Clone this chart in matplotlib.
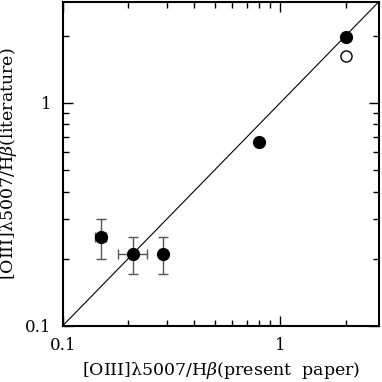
import numpy as np
import matplotlib
matplotlib.use('Agg')
import matplotlib.pyplot as plt
import matplotlib.ticker as ticker

plt.rcParams['font.family'] = 'DejaVu Serif'
plt.rcParams['mathtext.fontset'] = 'dejavuserif'

# filled points with error bars
x_err_pts = [0.15, 0.21, 0.29]
y_err_pts = [0.25, 0.21, 0.21]
x_lo = [0.141, 0.18, 0.29]
x_hi = [0.158, 0.243, 0.29]
y_lo = [0.20, 0.17, 0.17]
y_hi = [0.30, 0.25, 0.25]

# filled points without error bars
x_pts = [0.80, 2.0]
y_pts = [0.67, 1.97]

# open point
x_open = [2.0]
y_open = [1.62]

xmin, xmax = 0.1, 2.85
ymin, ymax = 0.1, 2.83

fig = plt.figure(figsize=(3.82, 3.82), dpi=100)
ax = fig.add_axes([0.164, 0.147, 0.829, 0.848])

xerr = [np.array(x_err_pts) - np.array(x_lo), np.array(x_hi) - np.array(x_err_pts)]
yerr = [np.array(y_err_pts) - np.array(y_lo), np.array(y_hi) - np.array(y_err_pts)]
ax.errorbar(x_err_pts, y_err_pts, xerr=xerr, yerr=yerr, fmt='o', color='black',
            ecolor='#555555', elinewidth=1.0, capsize=3.5, capthick=1.0, markersize=8.5)
ax.plot(x_pts, y_pts, 'o', color='black', markersize=8.5)
ax.plot(x_open, y_open, 'o', mfc='white', mec='black', mew=1.0, markersize=8)

# one-to-one line
ax.plot([0.1, 3.0], [0.1, 3.0], color='black', lw=0.8)

ax.set_xscale('log')
ax.set_yscale('log')
ax.set_xlim(xmin, xmax)
ax.set_ylim(ymin, ymax)

for axis in [ax.xaxis, ax.yaxis]:
    axis.set_major_locator(ticker.FixedLocator([0.1, 1]))
    axis.set_major_formatter(ticker.FixedFormatter(['0.1', '1']))
    axis.set_minor_locator(ticker.LogLocator(base=10, subs=np.arange(2, 10)))
    axis.set_minor_formatter(ticker.NullFormatter())

ax.tick_params(which='both', direction='in', top=True, right=True, labelsize=12, pad=8)
ax.tick_params(which='major', length=7, width=1.0)
ax.tick_params(which='minor', length=4.5, width=1.0)
for s in ax.spines.values():
    s.set_linewidth(1.5)

ax.set_xlabel(r'[OIII]λ5007/H$\beta$(present  paper)', fontsize=12.5, labelpad=4)
ax.set_ylabel(r'[OIII]λ5007/H$\beta$(literature)', fontsize=12.5, labelpad=4)

fig.savefig('out.png', dpi=100)
